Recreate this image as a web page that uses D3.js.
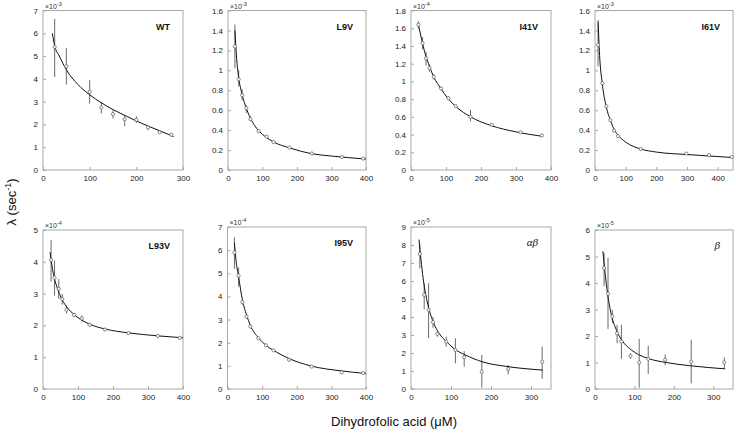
<!DOCTYPE html>
<html>
<head>
<meta charset="utf-8">
<script src="https://cdn.jsdelivr.net/npm/d3@7"></script>
<style>
  body { margin: 0; background: #fff; }
  svg { font-family: "Liberation Sans", Arial, sans-serif; }
</style>
</head>
<body>
<svg id="chart" width="736" height="435"></svg>
<script>
// ---- data ----
const panelNames = ["WT", "L9V", "I41V", "I61V", "L93V", "I95V", "\u03b1\u03b2", "\u03b2"];
const panelExponents = [-3, -3, -4, -3, -4, -4, -5, -5];
const xMaxes = [300, 400, 400, 450, 400, 400, 350, 350];
const yMaxes = [7, 1.6, 1.8, 1.6, 5, 7, 9, 6];
const xTickValues = [
  [0, 100, 200, 300], [0, 100, 200, 300, 400], [0, 100, 200, 300, 400], [0, 100, 200, 300, 400],
  [0, 100, 200, 300, 400], [0, 100, 200, 300, 400], [0, 100, 200, 300], [0, 100, 200, 300]
];
const yTickSteps = [1, 0.2, 0.2, 0.2, 1, 1, 1, 1];

// WT
const wtConc = [25, 50, 100, 125, 150, 175, 200, 225, 250, 275];
const wtRate = [5.4, 4.55, 3.43, 2.74, 2.45, 2.23, 2.2, 1.87, 1.65, 1.55];
const wtLow  = [4.08, 3.75, 2.92, 2.48, 2.26, 1.92, 2.07, 1.75, 1.59, 1.46];
const wtHigh = [6.63, 5.35, 3.94, 2.99, 2.62, 2.43, 2.36, 1.95, 1.7, 1.63];
const wtFit = [[20, 6.0], [25, 5.45], [35, 5.0], [50, 4.4], [75, 3.75], [100, 3.3], [125, 2.95],
  [150, 2.65], [175, 2.4], [200, 2.15], [225, 1.93], [250, 1.72], [280, 1.47]];

// L9V
const l9vConc = [20, 31, 41, 53, 65, 89, 112, 132, 178, 243, 330, 392];
const l9vRate = [1.24, 0.91, 0.75, 0.62, 0.51, 0.39, 0.335, 0.28, 0.225, 0.165, 0.13, 0.115];
const l9vLow  = [1.02, 0.84, 0.7, 0.57, 0.49, 0.38, 0.325, 0.27, 0.215, 0.155, 0.12, 0.105];
const l9vHigh = [1.46, 1.0, 0.81, 0.65, 0.54, 0.4, 0.345, 0.29, 0.235, 0.175, 0.14, 0.125];
const l9vFit = [[20, 1.4], [25, 1.12], [30, 0.95], [40, 0.77], [50, 0.65], [65, 0.52], [90, 0.39],
  [110, 0.33], [130, 0.285], [180, 0.22], [240, 0.165], [300, 0.14], [400, 0.11]];

// I41V
const i41vConc = [21, 33, 43, 53, 65, 86, 107, 128, 170, 231, 313, 374];
const i41vRate = [1.64, 1.43, 1.26, 1.15, 1.05, 0.92, 0.81, 0.72, 0.6, 0.51, 0.425, 0.39];
const i41vLow  = [1.6, 1.36, 1.18, 1.11, 1.02, 0.9, 0.79, 0.7, 0.55, 0.5, 0.415, 0.38];
const i41vHigh = [1.68, 1.5, 1.33, 1.19, 1.08, 0.94, 0.83, 0.74, 0.68, 0.52, 0.435, 0.4];
const i41vFit = [[20, 1.66], [30, 1.48], [40, 1.32], [50, 1.2], [65, 1.05], [85, 0.92], [105, 0.81],
  [130, 0.71], [170, 0.6], [230, 0.5], [300, 0.43], [375, 0.38]];

// I61V
const i61vConc = [10, 24, 37, 50, 62, 75, 149, 298, 372, 446];
const i61vRate = [1.255, 0.87, 0.64, 0.5, 0.395, 0.34, 0.21, 0.165, 0.15, 0.13];
const i61vLow  = [1.04, 0.85, 0.62, 0.485, 0.385, 0.33, 0.2, 0.15, 0.14, 0.125];
const i61vHigh = [1.47, 0.89, 0.66, 0.515, 0.405, 0.35, 0.22, 0.18, 0.16, 0.135];
const i61vFit = [[10, 1.5], [15, 1.15], [24, 0.86], [37, 0.63], [50, 0.5], [62, 0.41], [75, 0.35],
  [100, 0.28], [150, 0.21], [200, 0.18], [300, 0.155], [375, 0.14], [450, 0.125]];

// L93V
const l93vConc = [23, 33, 45, 55, 67, 89, 111, 133, 177, 244, 328, 391];
const l93vRate = [4.06, 3.5, 3.15, 2.83, 2.49, 2.33, 2.22, 2.02, 1.87, 1.76, 1.67, 1.61];
const l93vLow  = [3.38, 2.94, 2.83, 2.65, 2.37, 2.26, 2.12, 1.96, 1.83, 1.72, 1.63, 1.57];
const l93vHigh = [4.69, 4.04, 3.46, 2.99, 2.63, 2.4, 2.32, 2.08, 1.91, 1.8, 1.71, 1.65];
const l93vFit = [[20, 4.3], [30, 3.6], [40, 3.2], [55, 2.8], [70, 2.55], [90, 2.33], [110, 2.17],
  [135, 2.03], [180, 1.88], [240, 1.77], [330, 1.67], [400, 1.61]];

// I95V
const i95vConc = [20, 32, 43, 55, 66, 89, 111, 133, 178, 243, 330, 392];
const i95vRate = [5.9, 4.9, 3.75, 3.13, 2.7, 2.19, 1.89, 1.67, 1.26, 0.97, 0.72, 0.69];
const i95vLow  = [5.2, 4.43, 3.65, 3.05, 2.62, 2.12, 1.83, 1.61, 1.2, 0.92, 0.67, 0.64];
const i95vHigh = [6.55, 5.25, 3.85, 3.21, 2.78, 2.26, 1.95, 1.73, 1.32, 1.02, 0.77, 0.74];
const i95vFit = [[20, 6.3], [25, 5.5], [32, 4.85], [43, 3.85], [55, 3.2], [66, 2.75], [90, 2.2],
  [110, 1.9], [135, 1.65], [180, 1.3], [240, 1.0], [330, 0.78], [400, 0.67]];

// alpha-beta
const abConc = [22, 33, 44, 55, 66, 88, 111, 133, 177, 243, 328];
const abRate = [7.5, 5.23, 4.4, 3.71, 3.06, 2.63, 2.17, 1.76, 0.96, 1.11, 1.52];
const abLow  = [6.7, 4.43, 2.82, 3.4, 2.9, 2.35, 1.43, 1.24, 0.07, 0.82, 0.56];
const abHigh = [8.05, 5.88, 5.88, 4.0, 3.2, 2.9, 2.82, 2.1, 1.89, 1.33, 2.36];
const abFit = [[20, 8.3], [30, 6.2], [40, 4.9], [55, 3.75], [70, 3.1], [90, 2.6], [110, 2.2],
  [135, 1.9], [180, 1.5], [240, 1.25], [330, 1.05]];

// beta
const bConc = [23, 33, 44, 56, 67, 90, 112, 135, 178, 244, 328];
const bRate = [4.57, 3.6, 2.74, 2.1, 1.79, 1.25, 1.0, 1.14, 1.1, 1.03, 1.0];
const bLow  = [3.88, 2.27, 2.49, 1.73, 1.14, 1.14, 0.05, 0.57, 0.9, 0.21, 0.76];
const bHigh = [5.14, 4.95, 2.99, 2.42, 2.42, 1.35, 1.89, 1.63, 1.3, 1.86, 1.19];
const bFit = [[20, 5.2], [30, 3.8], [40, 2.9], [55, 2.2], [70, 1.8], [90, 1.5], [110, 1.3],
  [135, 1.15], [180, 1.0], [240, 0.88], [330, 0.76]];

const panelData = [
  [wtConc, wtRate, wtLow, wtHigh, wtFit],
  [l9vConc, l9vRate, l9vLow, l9vHigh, l9vFit],
  [i41vConc, i41vRate, i41vLow, i41vHigh, i41vFit],
  [i61vConc, i61vRate, i61vLow, i61vHigh, i61vFit],
  [l93vConc, l93vRate, l93vLow, l93vHigh, l93vFit],
  [i95vConc, i95vRate, i95vLow, i95vHigh, i95vFit],
  [abConc, abRate, abLow, abHigh, abFit],
  [bConc, bRate, bLow, bHigh, bFit]
];

// ---- layout ----
const boxes = [
  {left: 43, right: 183, top: 10.5, bottom: 170},
  {left: 228, right: 366, top: 10.5, bottom: 170},
  {left: 411, right: 551, top: 10.5, bottom: 170},
  {left: 595, right: 733, top: 10.5, bottom: 170},
  {left: 43, right: 183, top: 230, bottom: 389},
  {left: 227.5, right: 366, top: 227, bottom: 389},
  {left: 411, right: 551, top: 227, bottom: 389},
  {left: 595, right: 733, top: 230, bottom: 389}
];

const svg = d3.select("#chart");
const boxColor = "#a8a8a8";
const barColor = "#6a6a6a";

panelNames.forEach((name, i) => {
  const b = boxes[i];
  const [conc, rate, low, high, fit] = panelData[i];
  const x = d3.scaleLinear().domain([0, xMaxes[i]]).range([b.left, b.right]);
  const y = d3.scaleLinear().domain([0, yMaxes[i]]).range([b.bottom, b.top]);
  const g = svg.append("g");

  const yTicks = d3.range(0, yMaxes[i] + 1e-9, yTickSteps[i]);
  const fmt = d => String(+d.toFixed(1));

  const xAxis = g.append("g").attr("transform", `translate(0,${b.bottom})`)
    .call(d3.axisBottom(x).tickValues(xTickValues[i]).tickSizeInner(-3).tickSizeOuter(0).tickPadding(5).tickFormat(fmt));
  const yAxis = g.append("g").attr("transform", `translate(${b.left},0)`)
    .call(d3.axisLeft(y).tickValues(yTicks).tickSizeInner(-3).tickSizeOuter(0).tickPadding(5).tickFormat(fmt));
  [xAxis, yAxis].forEach(ax => {
    ax.select(".domain").remove();
    ax.selectAll("line").attr("stroke", boxColor);
    ax.selectAll("text").attr("font-size", 8).attr("fill", "#222");
  });

  g.append("rect")
    .attr("x", b.left).attr("y", b.top)
    .attr("width", b.right - b.left).attr("height", b.bottom - b.top)
    .attr("fill", "none").attr("stroke", boxColor).attr("stroke-width", 1);

  // exponent
  const ex = g.append("text").attr("x", b.left + 2).attr("y", b.top - 2)
    .attr("font-size", 7).attr("fill", "#333");
  ex.append("tspan").text("\u00d710");
  ex.append("tspan").attr("dy", -3).attr("font-size", 5.5).text(String(panelExponents[i]));

  // title
  const greek = i >= 6;
  g.append("text")
    .attr("x", b.right - 13).attr("y", b.top + 19)
    .attr("text-anchor", "end")
    .attr("font-size", greek ? 11 : 9)
    .attr("font-weight", greek ? "normal" : "bold")
    .attr("font-style", greek ? "italic" : "normal")
    .attr("font-family", greek ? "'Liberation Serif', 'DejaVu Serif', serif" : null)
    .attr("fill", "#111")
    .text(name);

  // error bars
  g.append("g").selectAll("line").data(conc).join("line")
    .attr("x1", d => x(d)).attr("x2", d => x(d))
    .attr("y1", (d, j) => y(low[j])).attr("y2", (d, j) => y(high[j]))
    .attr("stroke", barColor).attr("stroke-width", 1);

  // fitted curve
  g.append("path").datum(fit)
    .attr("d", d3.line().x(d => x(d[0])).y(d => y(d[1])).curve(d3.curveMonotoneX))
    .attr("fill", "none").attr("stroke", "#111").attr("stroke-width", 1);

  // markers
  g.append("g").selectAll("circle").data(conc).join("circle")
    .attr("cx", d => x(d)).attr("cy", (d, j) => y(rate[j]))
    .attr("r", 1.6)
    .attr("fill", "#fff").attr("stroke", barColor).attr("stroke-width", 0.8);
});

// axis titles
const yl = svg.append("text")
  .attr("transform", "translate(16,202) rotate(-90)")
  .attr("text-anchor", "middle").attr("font-size", 13).attr("fill", "#111");
yl.append("tspan").text("\u03bb (sec");
yl.append("tspan").attr("dy", -5).attr("font-size", 9).text("-1");
yl.append("tspan").attr("dy", 5).text(")");

svg.append("text")
  .attr("x", 394).attr("y", 426)
  .attr("text-anchor", "middle").attr("font-size", 13).attr("fill", "#111")
  .text("Dihydrofolic acid (\u03bcM)");
</script>
</body>
</html>
